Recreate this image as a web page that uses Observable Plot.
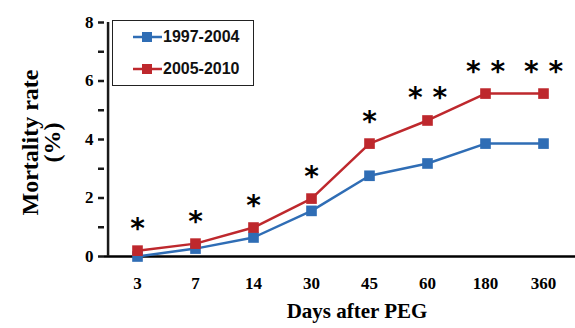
<!DOCTYPE html>
<html><head><meta charset="utf-8">
<script src="https://cdn.jsdelivr.net/npm/d3@7"></script>
<script src="https://cdn.jsdelivr.net/npm/@observablehq/plot@0.6"></script>
<style>
body{margin:0;background:#fff;}
#wrap{position:relative;width:575px;height:328px;}
#legend{position:absolute;left:112px;top:20px;width:140px;height:64px;border:1px solid #222;background:#fff;font-family:"Liberation Sans Narrow","Liberation Sans",Arial,sans-serif;font-size:16px;font-weight:bold;color:#111;}
.item{position:absolute;left:20px;display:flex;align-items:center;}
.item svg{margin-right:1px;}
</style></head>
<body><div id="wrap"><div id="legend"></div></div>
<script>
const days = ["3","7","14","30","45","60","180","360"];
const series1997 = [0.0, 0.27, 0.65, 1.56, 2.76, 3.18, 3.86, 3.86];
const series2005 = [0.2, 0.44, 0.99, 1.98, 3.86, 4.65, 5.57, 5.57];
const significance = ["*","*","*","*","*","* *","* *","* *"];
const seriesNames = ["1997-2004","2005-2010"];
const colors = ["#2f6db5","#be282d"];

const data = [];
days.forEach((d,i)=>{
  data.push({day:d, value:series1997[i], series:seriesNames[0]});
  data.push({day:d, value:series2005[i], series:seriesNames[1]});
});
const stars = days.map((d,i)=>({day:d, value:series2005[i], sig:significance[i]}));

const serif = "'Liberation Serif','Times New Roman',serif";
const W = 575, ML = 104, MR = 0;
const step = (W - ML - MR) / days.length;
const chart = Plot.plot({
  width:W, height:328,
  marginLeft:ML, marginRight:MR, marginTop:22, marginBottom:72,
  style:{fontFamily:serif, background:"transparent", overflow:"visible"},
  x:{domain:days, type:"point", padding:0.5},
  y:{domain:[0,8]},
  color:{domain:seriesNames, range:colors},
  marks:[
    Plot.axisY({ticks:[0,1,2,3,4,5,6,7,8], tickFormat:d=> d%2 ? "" : d, tickSize:6, tickPadding:5, fontSize:17, fontWeight:"bold", stroke:"#1a1a1a", strokeWidth:2.5, strokeOpacity:1, label:null, fill:"#000"}),
    Plot.axisX({tickSize:0, tickPadding:20, fontSize:17, fontWeight:"bold", label:null, fill:"#000"}),
    Plot.ruleY([0], {stroke:"#000", strokeWidth:2.5}),
    Plot.ruleX([days[0]], {y1:0, y2:8, dx:-step/2, stroke:"#1a1a1a", strokeWidth:2.5, strokeOpacity:1}),
    Plot.line(data, {x:"day", y:"value", stroke:"series", strokeWidth:2.5}),
    Plot.dot(data, {x:"day", y:"value", fill:"series", symbol:"square", r:6}),
    Plot.text(stars, {x:"day", y:"value", text:"sig", dy:-22, fontSize:28, fontWeight:"bold", fill:"#000", fontFamily:"'DejaVu Sans',sans-serif"}),
    Plot.text(["Mortality rate\n(%)"], {frameAnchor:"left", textAnchor:"middle", rotate:-90, dx:-63, dy:3, fontSize:24, fontWeight:"bold", lineHeight:0.92, fill:"#000"}),
    Plot.text(["Days after PEG"], {frameAnchor:"bottom", dx:17, dy:61, fontSize:21, fontWeight:"bold", fill:"#000"})
  ]
});
document.getElementById("wrap").prepend(chart);

const legend = document.getElementById("legend");
seriesNames.forEach((name,i)=>{
  const div = document.createElement("div");
  div.className = "item";
  div.style.top = (i===0 ? 7 : 39) + "px";
  div.innerHTML = `<svg width="29" height="14"><line x1="0" y1="7" x2="29" y2="7" stroke="${colors[i]}" stroke-width="2.5"/><rect x="9" y="2" width="10" height="10" fill="${colors[i]}"/></svg><span>${name}</span>`;
  legend.appendChild(div);
});
</script></body></html>
